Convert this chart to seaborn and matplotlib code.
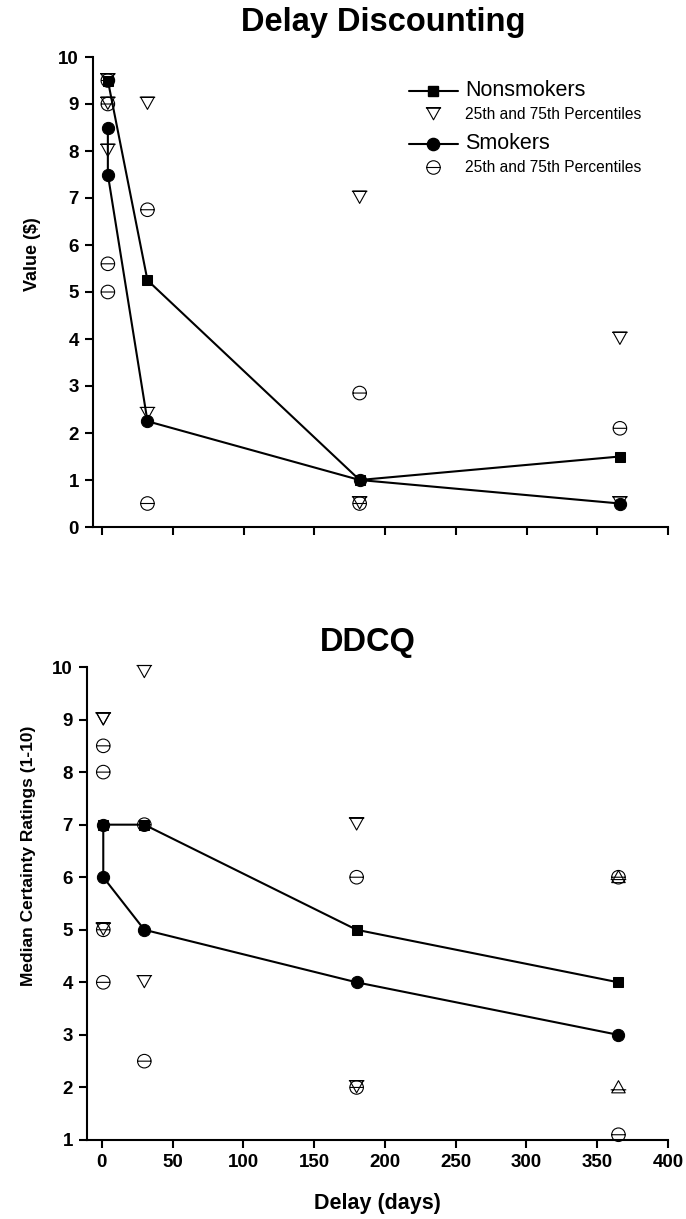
import numpy as np
import matplotlib
matplotlib.use("Agg")
import matplotlib.pyplot as plt
from matplotlib.path import Path
from matplotlib.markers import MarkerStyle
from matplotlib.lines import Line2D
import seaborn as sns

# ---------------- data ----------------
# Delay Discounting (top)
dd_ns_x = [4, 32, 182, 366]
dd_ns_med = [9.5, 5.25, 1.0, 1.5]
dd_s_x = [4, 4, 32, 182, 366]
dd_s_med = [8.5, 7.5, 2.25, 1.0, 0.5]
dd_ns_pct_x = [4, 4, 4, 32, 32, 182, 182, 366, 366]
dd_ns_pct = [9.5, 9.0, 8.0, 9.0, 2.4, 7.0, 0.5, 4.0, 0.5]
dd_s_pct_x = [4, 4, 4, 4, 32, 32, 182, 182, 366]
dd_s_pct = [9.5, 9.0, 5.6, 5.0, 6.75, 0.5, 2.85, 0.5, 2.1]

# DDCQ (bottom)
dq_ns_x = [1, 30, 180, 365]
dq_ns_med = [7, 7, 5, 4]
dq_s_x = [1, 1, 30, 180, 365]
dq_s_med = [7, 6, 5, 4, 3]
dq_ns_pct_x = [1, 1, 1, 30, 30, 180, 180]
dq_ns_pct = [9, 9, 5, 9.9, 4, 7, 2]
dq_ns_pct_up_x = [365, 365]
dq_ns_pct_up = [6, 2]
dq_s_pct_x = [1, 1, 1, 1, 30, 30, 180, 180, 365, 365]
dq_s_pct = [8.5, 8, 5, 4, 7, 2.5, 6, 2, 6, 1.1]

x_ticks = [0, 50, 100, 150, 200, 250, 300, 350, 400]
dd_yticks = list(range(0, 11))
dq_yticks = list(range(1, 11))

# ---------------- style ----------------
sns.set_theme(style="ticks")
plt.rcParams['font.family'] = ['Liberation Sans', 'DejaVu Sans']
plt.rcParams['text.color'] = 'black'
plt.rcParams['axes.labelcolor'] = 'black'
plt.rcParams['xtick.color'] = 'black'
plt.rcParams['ytick.color'] = 'black'
plt.rcParams['axes.edgecolor'] = 'black'
plt.rcParams['axes.linewidth'] = 1.5
plt.rcParams['xtick.major.width'] = 1.5
plt.rcParams['ytick.major.width'] = 1.5
plt.rcParams['xtick.major.size'] = 6
plt.rcParams['ytick.major.size'] = 6

# custom markers
tri_down = Path([(-1, 1), (1, 1), (0, -0.8), (-1, 1), (-1.15, 1), (1.15, 1)],
                [Path.MOVETO, Path.LINETO, Path.LINETO, Path.CLOSEPOLY, Path.MOVETO, Path.LINETO])
tri_up = Path([(-1, -0.8), (1, -0.8), (0, 1), (-1, -0.8), (-1.15, -0.35), (1.15, -0.35)],
              [Path.MOVETO, Path.LINETO, Path.LINETO, Path.CLOSEPOLY, Path.MOVETO, Path.LINETO])
circ = Path.unit_circle()
circ_bar = Path(np.vstack([circ.vertices, [[-1, 0], [1, 0]]]),
                np.concatenate([circ.codes, [Path.MOVETO, Path.LINETO]]))
m_tri = MarkerStyle(tri_down)
m_tri_up = MarkerStyle(tri_up)
m_circ = MarkerStyle(circ_bar)

fig = plt.figure(figsize=(6.86, 12.19), dpi=100)
W, H = 686, 1219
ax1 = fig.add_axes([93 / W, 1 - 527 / H, (668 - 93) / W, (527 - 57) / H])
ax2 = fig.add_axes([87 / W, 1 - 1140 / H, (668 - 87) / W, (1140 - 667) / H])

LW = 1.5
MS_SQ = 7.5
MS_CI = 8.8
S_TRI = 125
S_CIR = 95


def draw(ax, ns_x, ns_med, s_x, s_med, nsp_x, nsp, sp_x, sp):
    sns.lineplot(x=ns_x, y=ns_med, ax=ax, color='black', lw=LW, marker='s',
                 markersize=MS_SQ, markeredgecolor='black', estimator=None, sort=False, zorder=3)
    sns.lineplot(x=s_x, y=s_med, ax=ax, color='black', lw=LW, marker='o',
                 markersize=MS_CI, markeredgecolor='black', estimator=None, sort=False, zorder=3)
    sns.scatterplot(x=nsp_x, y=nsp, ax=ax, marker=m_tri, s=S_TRI, facecolor='none',
                    edgecolor='black', linewidth=0.8, zorder=4)
    sns.scatterplot(x=sp_x, y=sp, ax=ax, marker=m_circ, s=S_CIR, facecolor='none',
                    edgecolor='black', linewidth=0.8, zorder=4)


draw(ax1, dd_ns_x, dd_ns_med, dd_s_x, dd_s_med, dd_ns_pct_x, dd_ns_pct, dd_s_pct_x, dd_s_pct)
draw(ax2, dq_ns_x, dq_ns_med, dq_s_x, dq_s_med, dq_ns_pct_x, dq_ns_pct, dq_s_pct_x, dq_s_pct)
sns.scatterplot(x=dq_ns_pct_up_x, y=dq_ns_pct_up, ax=ax2, marker=m_tri_up, s=S_TRI,
                facecolor='none', edgecolor='black', linewidth=0.8, zorder=4)

TICK_FS = 13.5
for ax in (ax1, ax2):
    sns.despine(ax=ax)
    ax.set_xticks(x_ticks)
    ax.tick_params(axis='both', direction='out', colors='black', pad=4)

ax1.set_xlim(-6.5, 400)
ax1.set_ylim(0, 10)
ax1.set_yticks(dd_yticks)
ax1.set_yticklabels([str(v) for v in dd_yticks], fontsize=TICK_FS, fontweight='bold')
ax1.set_xticklabels([])
ax1.set_ylabel('Value ($)', fontsize=13, fontweight='bold')
ax1.yaxis.set_label_coords(-0.090, 0.58)
ax1.set_xlabel('')

ax2.set_xlim(-10.5, 400)
ax2.set_ylim(1, 10)
ax2.set_yticks(dq_yticks)
ax2.set_yticklabels([str(v) for v in dq_yticks], fontsize=TICK_FS, fontweight='bold')
ax2.set_xticklabels([str(v) for v in x_ticks], fontsize=TICK_FS, fontweight='bold')
ax2.set_ylabel('Median Certainty Ratings (1-10)', fontsize=12.5, fontweight='bold')
ax2.yaxis.set_label_coords(-0.088, 0.60)
ax2.set_xlabel('Delay (days)', fontsize=15.5, fontweight='bold', labelpad=16)

for ax in (ax1, ax2):
    for c in ax.collections + ax.lines:
        c.set_clip_on(False)

fig.text(383 / W, 1 - 23 / H, 'Delay Discounting', ha='center', va='center',
         fontsize=23.5, fontweight='bold')
fig.text(368 / W, 1 - 642 / H, 'DDCQ', ha='center', va='center',
         fontsize=23.5, fontweight='bold')

# legends (two groups)
h_ns = [Line2D([], [], color='black', lw=LW, marker='s', markersize=MS_SQ),
        Line2D([], [], color='none', marker=m_tri, markersize=11, markerfacecolor='none',
               markeredgecolor='black', markeredgewidth=0.8)]
h_s = [Line2D([], [], color='black', lw=LW, marker='o', markersize=MS_CI),
       Line2D([], [], color='none', marker=m_circ, markersize=9.7, markerfacecolor='none',
              markeredgecolor='black', markeredgewidth=0.8)]
lab_ns = ['Nonsmokers', '25th and 75th Percentiles']
lab_s = ['Smokers', '25th and 75th Percentiles']


def make_leg(handles, labels, top_px):
    leg = ax1.legend(handles, labels, loc='upper left',
                     bbox_to_anchor=(409 / W, 1 - top_px / H), bbox_transform=fig.transFigure,
                     frameon=False, handlelength=3.2, handletextpad=0.45, labelspacing=0.42,
                     borderaxespad=0, borderpad=0, fontsize=11)
    for t, fs in zip(leg.get_texts(), [15.5, 11.2]):
        t.set_fontsize(fs)
    return leg


leg1 = make_leg(h_ns, lab_ns, 80)
ax1.add_artist(leg1)
leg2 = make_leg(h_s, lab_s, 133)

fig.savefig('out.png', dpi=100)
